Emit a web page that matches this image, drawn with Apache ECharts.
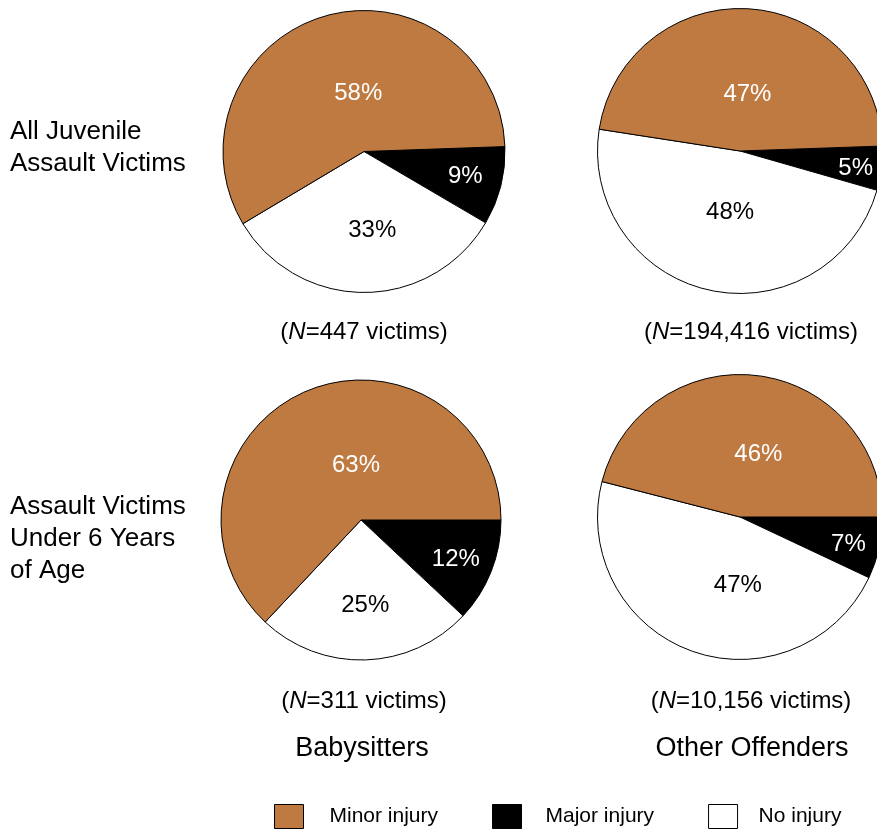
<!DOCTYPE html>
<html>
<head>
<meta charset="utf-8">
<script src="https://cdn.jsdelivr.net/npm/echarts@6/dist/echarts.min.js"></script>
<style>
html,body{margin:0;padding:0;background:#fff;}
#chart{width:877px;height:831px;}
</style>
</head>
<body>
<div id="chart"></div>
<script>
// ---- data ----
const sliceNames = ['Major injury', 'No injury', 'Minor injury'];
const legendOrder = ['Minor injury', 'Major injury', 'No injury'];
const babysittersAll = [9, 33, 58];
const otherAll = [5, 48, 47];
const babysittersUnder6 = [12, 25, 63];
const otherUnder6 = [7, 47, 46];
const nAll = ['447', '194,416'];
const nUnder6 = ['311', '10,156'];
const rowLabels = ['All Juvenile\nAssault Victims', 'Assault Victims\nUnder 6 Years\nof Age'];
const columnLabels = ['Babysitters', 'Other Offenders'];

// ---- styles / layout ----
const FONT = '"Liberation Sans", Arial, Helvetica, sans-serif';
const sliceColors = {'Major injury': '#000000', 'No injury': '#ffffff', 'Minor injury': '#BE7A41'};
const labelColors = {'Major injury': '#ffffff', 'No injury': '#000000', 'Minor injury': '#ffffff'};
const legendTextPad = {'Minor injury': 21, 'Major injury': 19, 'No injury': 16};

const pies = [
  {values: babysittersAll, center: [364, 151.5], radius: 141, start: 2,
   offsets: [[30, 7], [8, 5], [15, 12]]},
  {values: otherAll, center: [740, 151], radius: 142.5, start: 2,
   offsets: [[42, 8], [6, -11], [3, 17]]},
  {values: babysittersUnder6, center: [361, 520], radius: 140, start: 0,
   offsets: [[27, 13], [2, 12], [24, 12]]},
  {values: otherUnder6, center: [740, 517], radius: 142.5, start: 0,
   offsets: [[36, 11], [23, -1], [9, 11]]}
];

const series = pies.map(p => ({
  type: 'pie',
  center: p.center,
  radius: p.radius,
  startAngle: p.start,
  clockwise: true,
  silent: true,
  animation: false,
  avoidLabelOverlap: false,
  labelLine: {show: false},
  emphasis: {disabled: true},
  itemStyle: {borderColor: '#000', borderWidth: 1},
  data: sliceNames.map((name, i) => ({
    name: name,
    value: p.values[i],
    itemStyle: {color: sliceColors[name]},
    label: {
      show: true,
      position: 'inside',
      formatter: '{c}%',
      color: labelColors[name],
      fontSize: 24,
      fontFamily: FONT,
      offset: p.offsets[i]
    }
  }))
}));

const graphics = [];
// row labels
[[10, 148], [10, 539]].forEach((pos, i) => {
  graphics.push({
    type: 'text', x: pos[0], y: pos[1],
    style: {text: rowLabels[i], font: '26px ' + FONT, fill: '#000',
            align: 'left', verticalAlign: 'middle', lineHeight: 32}
  });
});
// N labels
const nPos = [[364, 332], [751, 332], [364, 701], [751, 701]];
const nVals = [nAll[0], nAll[1], nUnder6[0], nUnder6[1]];
nVals.forEach((v, i) => {
  graphics.push({
    type: 'text', x: nPos[i][0], y: nPos[i][1],
    style: {text: '({i|N}=' + v + ' victims)', font: '24px ' + FONT, fill: '#000',
            align: 'center', verticalAlign: 'middle',
            rich: {i: {fontStyle: 'italic', fontSize: 24, fontFamily: FONT}}}
  });
});
// column labels
[[362, 749], [752, 749]].forEach((pos, i) => {
  graphics.push({
    type: 'text', x: pos[0], y: pos[1],
    style: {text: columnLabels[i], font: '27px ' + FONT, fill: '#000',
            align: 'center', verticalAlign: 'middle'}
  });
});

const chart = echarts.init(document.getElementById('chart'), null, {renderer: 'canvas'});
chart.setOption({
  animation: false,
  backgroundColor: '#fff',
  legend: {
    data: legendOrder.map(name => ({
      name: name,
      textStyle: {padding: [0, 0, 0, legendTextPad[name]]}
    })),
    left: 274,
    top: 804,
    padding: 0,
    itemWidth: 29,
    itemHeight: 24,
    itemGap: 54,
    selectedMode: false,
    icon: 'rect',
    itemStyle: {borderColor: '#000', borderWidth: 1},
    textStyle: {fontSize: 21, fontFamily: FONT, color: '#000'}
  },
  series: series,
  graphic: graphics
});
</script>
</body>
</html>
